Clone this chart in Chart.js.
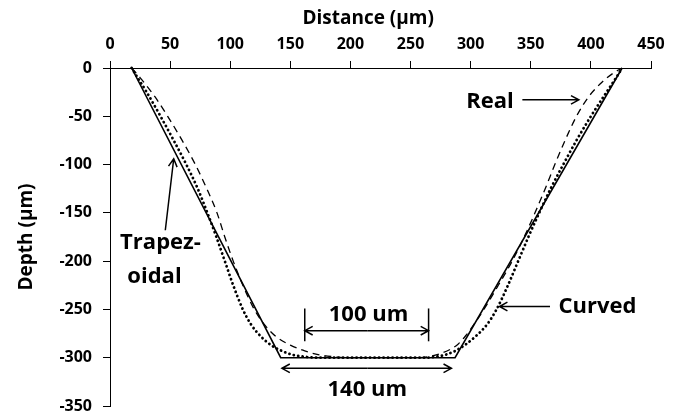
<!DOCTYPE html>
<html>
<head>
<meta charset="utf-8">
<script src="https://cdn.jsdelivr.net/npm/chart.js@4.4.1/dist/chart.umd.min.js"></script>
<style>
  html, body { margin: 0; padding: 0; background: #fff; }
  #wrap { width: 679px; height: 416px; }
</style>
</head>
<body>
<div id="wrap"><canvas id="profile"></canvas></div>
<script>
// trench profiles: distance (um) vs depth (um)
const trapDistance = [18, 142, 287, 426];
const trapDepth = [0, -300, -300, 0];

const curvedDistance = [18, 23, 30.5, 42, 53, 63.5, 73, 81, 88.5, 95.5, 102.5, 110.5, 117, 125.5, 134, 143, 152, 162, 172, 217, 262,
  271, 279, 287, 295, 304, 314, 321.5, 331, 339.5, 348, 357, 366.5, 377, 388, 400, 413, 421, 426];
const curvedDepth = [0, -10, -25, -50, -75, -100, -125, -150, -175, -200, -225, -250, -265, -278, -287, -293, -297, -299, -300, -300, -300,
  -299, -297, -293, -287, -278, -265, -250, -225, -200, -175, -150, -125, -100, -75, -50, -25, -10, 0];

const realDistance = [18, 25, 31.5, 37.5, 48, 60, 71, 80.5, 89, 95.5, 102.5, 110.5, 120, 128, 138, 150, 162, 174, 186, 197, 226, 256,
  265, 274, 282, 289.5, 296, 303, 311, 323, 334.5, 344.5, 353.5, 362, 370, 378.5, 388, 398, 409, 419, 426];
const realDepth = [0, -10, -20, -30, -50, -75, -100, -125, -150, -175, -200, -225, -250, -265, -278, -287, -293, -297, -299, -300, -300, -300,
  -299, -296, -292, -286, -277, -265, -250, -225, -200, -175, -150, -125, -100, -75, -50, -30, -15, -5, 0];

const xTicks = { min: 0, max: 450, step: 50 };
const yTicks = { min: -350, max: 0, step: 50 };

// callout labels and arrows, in data units
const notes = [
  { text: 'Real', x: 316, y: -35, align: 'center' },
  { text: 'Curved', x: 373, y: -247, align: 'left' },
  { text: 'Trapez-', x: 42, y: -181, align: 'center' },
  { text: 'oidal', x: 37, y: -216, align: 'center' },
  { text: '100 um', x: 215, y: -256, align: 'center' },
  { text: '140 um', x: 214, y: -333, align: 'center' }
];
const arrows = [
  { from: [343, -33], to: [390, -33] },
  { from: [366, -247], to: [324, -247] },
  { from: [46, -168], to: [53, -94] },
  { from: [214, -272], to: [162, -272] },
  { from: [214, -272], to: [265, -272] },
  { from: [214, -311], to: [143, -311] },
  { from: [214, -311], to: [284, -311] }
];
const stops = [
  { x: 162, top: -249, bottom: -283 },
  { x: 265, top: -249, bottom: -283 }
];

const FONT = "'Open Sans', 'Liberation Sans', sans-serif";

function toPoints(xs, ys) {
  return xs.map((x, i) => ({ x: x, y: ys[i] }));
}

const callouts = {
  id: 'callouts',
  afterDatasetsDraw(chart) {
    const { ctx, scales: { x, y } } = chart;
    ctx.save();
    ctx.strokeStyle = '#000';
    ctx.fillStyle = '#000';
    ctx.lineWidth = 1.5;
    ctx.lineCap = 'butt';

    arrows.forEach(a => {
      const x1 = x.getPixelForValue(a.from[0]), y1 = y.getPixelForValue(a.from[1]);
      const x2 = x.getPixelForValue(a.to[0]), y2 = y.getPixelForValue(a.to[1]);
      const ang = Math.atan2(y2 - y1, x2 - x1);
      const len = 9, spread = 0.5;
      ctx.beginPath();
      ctx.moveTo(x1, y1);
      ctx.lineTo(x2, y2);
      ctx.moveTo(x2 - len * Math.cos(ang - spread), y2 - len * Math.sin(ang - spread));
      ctx.lineTo(x2, y2);
      ctx.lineTo(x2 - len * Math.cos(ang + spread), y2 - len * Math.sin(ang + spread));
      ctx.stroke();
    });

    stops.forEach(s => {
      const px = x.getPixelForValue(s.x);
      ctx.beginPath();
      ctx.moveTo(px, y.getPixelForValue(s.top));
      ctx.lineTo(px, y.getPixelForValue(s.bottom));
      ctx.stroke();
    });

    ctx.font = 'bold 22px ' + FONT;
    ctx.textBaseline = 'middle';
    notes.forEach(n => {
      ctx.textAlign = n.align;
      ctx.fillText(n.text, x.getPixelForValue(n.x), y.getPixelForValue(n.y));
    });
    ctx.restore();
  }
};

Chart.defaults.color = '#000';
Chart.defaults.font.family = FONT;

new Chart(document.getElementById('profile'), {
  type: 'scatter',
  data: {
    datasets: [
      {
        label: 'Trapezoidal',
        data: toPoints(trapDistance, trapDepth),
        showLine: true,
        borderColor: '#000',
        borderWidth: 1.6,
        pointRadius: 0,
        tension: 0,
        clip: false
      },
      {
        label: 'Curved',
        data: toPoints(curvedDistance, curvedDepth),
        showLine: true,
        borderColor: '#000',
        borderWidth: 2.8,
        borderDash: [0.1, 4.4],
        borderCapStyle: 'round',
        pointRadius: 0,
        cubicInterpolationMode: 'monotone',
        clip: false
      },
      {
        label: 'Real',
        data: toPoints(realDistance, realDepth),
        showLine: true,
        borderColor: '#000',
        borderWidth: 1.3,
        borderDash: [7, 5],
        pointRadius: 0,
        cubicInterpolationMode: 'monotone',
        clip: false
      }
    ]
  },
  options: {
    responsive: true,
    maintainAspectRatio: false,
    animation: false,
    layout: { padding: { left: 0, top: 0, right: 28, bottom: 10 } },
    plugins: { legend: { display: false }, tooltip: { enabled: false } },
    scales: {
      x: {
        type: 'linear',
        position: 'top',
        min: xTicks.min,
        max: xTicks.max,
        afterFit(scale) { scale.height = 68; },
        ticks: { stepSize: xTicks.step, padding: 7, font: { size: 16, weight: 'bold' } },
        grid: { drawOnChartArea: false, tickLength: 7, color: '#000', lineWidth: 1 },
        border: { color: '#000', width: 1 },
        title: {
          display: true,
          // trailing spaces nudge the centred title a little to the left
          text: 'Distance (µm)     ',
          font: { size: 19, weight: 'bold' },
          padding: { top: 7, bottom: 0 }
        }
      },
      y: {
        type: 'linear',
        min: yTicks.min,
        max: yTicks.max,
        afterFit(scale) {
          scale.width = 110;
          scale.paddingTop = 0;
          scale.paddingBottom = 0;
        },
        ticks: { stepSize: yTicks.step, padding: 11, font: { size: 16, weight: 'bold' } },
        grid: { drawOnChartArea: false, tickLength: 7, color: '#000', lineWidth: 1 },
        border: { color: '#000', width: 1 },
        title: {
          display: true,
          text: 'Depth (µm)',
          font: { size: 19, weight: 'bold' },
          padding: { top: 15, bottom: 0 }
        }
      }
    }
  },
  plugins: [callouts]
});
</script>
</body>
</html>
